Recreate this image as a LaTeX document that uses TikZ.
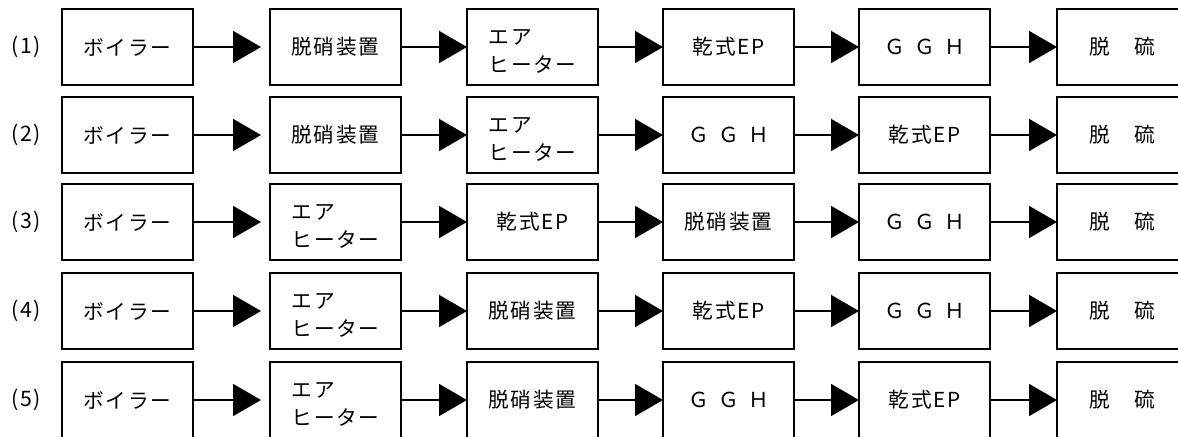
\documentclass[tikz,border=0pt]{standalone}
\usepackage{fontspec}
\newfontfamily\jp{Noto Sans CJK JP}[LetterSpace=8]
\usetikzlibrary{arrows.meta}
\newcommand\tBoil{ボイラー}
\newcommand\tDenox{脱硝装置}
\newcommand\tAH{\raisebox{-4pt}[\height][\depth]{\begin{tabular}{@{}l@{}}エア\\[-1pt]ヒーター\end{tabular}}}
\newcommand\tEP{乾式EP}
\newcommand\tGGH{Ｇ\hspace{7pt}Ｇ\hspace{7pt}Ｈ}
\newcommand\tDeS{脱　硫}
\begin{document}
\begin{tikzpicture}[x=0.75pt,y=-0.75pt,
  box/.style={draw=black, line width=1.4pt, rectangle, minimum width=98.25pt,
    minimum height=57pt, inner sep=0pt, outer sep=0pt, anchor=north west,
    align=left, font=\jp\fontsize{15.5pt}{22.5pt}\selectfont},
  lab/.style={inner sep=0pt, font=\jp\fontsize{16pt}{18pt}\selectfont},
  conn/.style={line width=1.4pt, -{Triangle[length=21pt,width=24pt]}},
  gapconn/.style={conn, shorten >=6.75pt}]
\clip (0,0) rectangle (1178,436);
\fill[white] (0,0) rectangle (1178,436);
\foreach \r/\y/\a/\b/\c/\d in {%
  1/9/\tDenox/\tAH/\tEP/\tGGH,
  2/97/\tDenox/\tAH/\tGGH/\tEP,
  3/184/\tAH/\tEP/\tDenox/\tGGH,
  4/273/\tAH/\tDenox/\tEP/\tGGH,
  5/362/\tAH/\tDenox/\tGGH/\tEP}{
  \node[lab] (l\r) at (26,\y+38) {(\r)};
  \node[box] (n\r-1) at (62,\y) {\tBoil};
  \node[box] (n\r-2) at (270,\y) {\a};
  \node[box] (n\r-3) at (467,\y) {\b};
  \node[box] (n\r-4) at (663,\y) {\c};
  \node[box] (n\r-5) at (859,\y) {\d};
  \node[box] (n\r-6) at (1057,\y) {\tDeS};
  \draw[gapconn] (n\r-1.east) -- (n\r-2.west);
  \draw[conn] (n\r-2.east) -- (n\r-3.west);
  \draw[conn] (n\r-3.east) -- (n\r-4.west);
  \draw[conn] (n\r-4.east) -- (n\r-5.west);
  \draw[conn] (n\r-5.east) -- (n\r-6.west);
}
\end{tikzpicture}
\end{document}
